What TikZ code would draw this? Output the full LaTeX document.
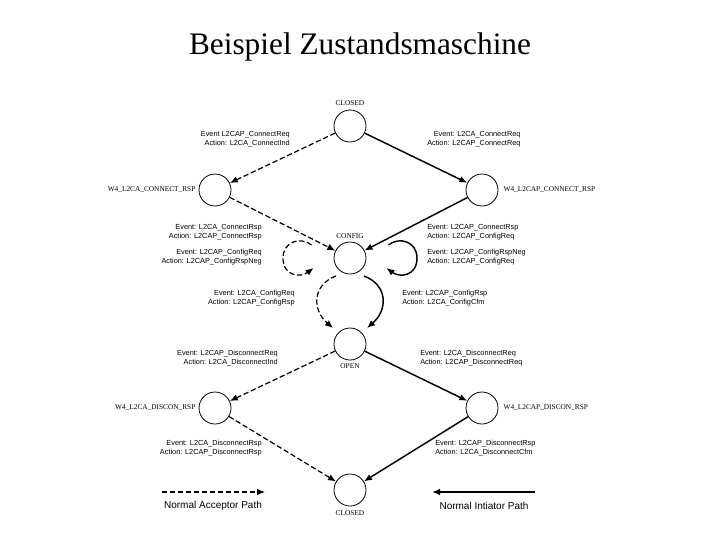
\documentclass[tikz,border=0pt]{standalone}
\usepackage{fontspec}
\setmainfont{Liberation Serif}
\setsansfont{Liberation Sans}
\usetikzlibrary{arrows.meta,positioning}
\begin{document}
\begin{tikzpicture}[x=0.75pt,y=-0.75pt,
  st/.style={circle,draw,minimum size=24pt,inner sep=0pt,line width=0.6pt},
  nl/.style={font=\fontsize{5.5}{6}\selectfont\rmfamily,inner sep=1pt},
  lb/.style={font=\fontsize{5.5}{6.5}\selectfont\sffamily,inner sep=0pt,align=#1},
  acc/.style={dashed,dash pattern=on 4pt off 2pt,line width=0.9pt,-{Latex[length=6pt,width=5pt]}},
  ini/.style={line width=1.1pt,-{Latex[length=6pt,width=5pt]}}]
\useasboundingbox (0,0) rectangle (720,540);
\node[font=\fontsize{23.5}{26}\selectfont] (title) at (360,47) {Beispiel Zustandsmaschine};
\node[st] (c1) at (350,126) {};
\node[st] (wl) at (215,190) {};
\node[st] (wr) at (482,190) {};
\node[st] (cf) at (350,258) {};
\node[st] (op) at (350,344) {};
\node[st] (dl) at (215,408) {};
\node[st] (dr) at (482,408) {};
\node[st] (c2) at (350,490) {};
\node[nl,above=2pt of c1] (t1) {CLOSED};
\node[nl,anchor=east] (t2) at (197,190) {W4\_L2CA\_CONNECT\_RSP};
\node[nl,anchor=west] (t3) at (502,190) {W4\_L2CAP\_CONNECT\_RSP};
\node[nl,above=1pt of cf] (t4) {CONFIG};
\node[nl,below=1pt of op] (t5) {OPEN};
\node[nl,anchor=east] (t6) at (197,408) {W4\_L2CA\_DISCON\_RSP};
\node[nl,anchor=west] (t7) at (502,408) {W4\_L2CAP\_DISCON\_RSP};
\node[nl,below=2pt of c2] (t8) {CLOSED};
% transitions
\draw[acc] (c1) -- (wl);
\draw[ini] (c1) -- (wr);
\draw[acc] (wl) -- (cf);
\draw[ini] (wr) -- (cf);
\draw[acc] ([shift={(-22,-13)}]cf.west) .. controls (300,236) and (283,242) .. (283,258) .. controls (283,276) and (300,278) .. ([shift={(-20,10)}]cf.west);
\draw[ini] ([shift={(22,-13)}]cf.east) .. controls (400,236) and (417,242) .. (417,258) .. controls (417,276) and (400,278) .. ([shift={(20,10)}]cf.east);
\draw[acc] ([shift={(-14,18)}]cf.center) .. controls (312,285) and (312,310) .. ([shift={(-17,-16)}]op.center);
\draw[ini] ([shift={(14,18)}]cf.center) .. controls (388,285) and (388,310) .. ([shift={(17,-16)}]op.center);
\draw[acc] (op) -- (dl);
\draw[ini] (op) -- (dr);
\draw[acc] (dl) -- (c2);
\draw[ini] (dr) -- (c2);
% labels
\node[lb=right,anchor=east] (a1) at (290,139) {Event L2CAP\_ConnectReq\\Action: L2CA\_ConnectInd};
\node[lb=right,anchor=west] (a2) at (427,139) {Event: L2CA\_ConnectReq\\Action: L2CAP\_ConnectReq};
\node[lb=right,anchor=east] (a3) at (262,232) {Event: L2CA\_ConnectRsp\\Action: L2CAP\_ConnectRsp};
\node[lb=left,anchor=west] (a4) at (427,232) {Event: L2CAP\_ConnectRsp\\Action: L2CAP\_ConfigReq};
\node[lb=right,anchor=east] (a5) at (262,257) {Event: L2CAP\_ConfigReq\\Action: L2CAP\_ConfigRspNeg};
\node[lb=left,anchor=west] (a6) at (427,257) {Event: L2CAP\_ConfigRspNeg\\Action: L2CAP\_ConfigReq};
\node[lb=right,anchor=east] (a7) at (295,298) {Event: L2CA\_ConfigReq\\Action: L2CAP\_ConfigRsp};
\node[lb=left,anchor=west] (a8) at (402,298) {Event: L2CAP\_ConfigRsp\\Action: L2CA\_ConfigCfm};
\node[lb=right,anchor=east] (a9) at (278,358) {Event: L2CAP\_DisconnectReq\\Action: L2CA\_DisconnectInd};
\node[lb=left,anchor=west] (a10) at (420,358) {Event: L2CA\_DisconnectReq\\Action: L2CAP\_DisconnectReq};
\node[lb=right,anchor=east] (a11) at (262,448) {Event: L2CA\_DisconnectRsp\\Action: L2CAP\_DisconnectRsp};
\node[lb=left,anchor=west] (a12) at (435,448) {Event: L2CAP\_DisconnectRsp\\Action: L2CA\_DisconnectCfm};
% legend
\coordinate (la) at (162,492); \coordinate (lb2) at (265,492);
\coordinate (ra) at (535,492); \coordinate (rb) at (432,492);
\draw[acc] (la) -- (lb2);
\draw[ini] (ra) -- (rb);
\node[font=\fontsize{7.5}{8}\selectfont\sffamily] (l1) at (213,506) {Normal Acceptor Path};
\node[font=\fontsize{7.5}{8}\selectfont\sffamily] (l2) at (484,506) {Normal Intiator Path};
\end{tikzpicture}
\end{document}
